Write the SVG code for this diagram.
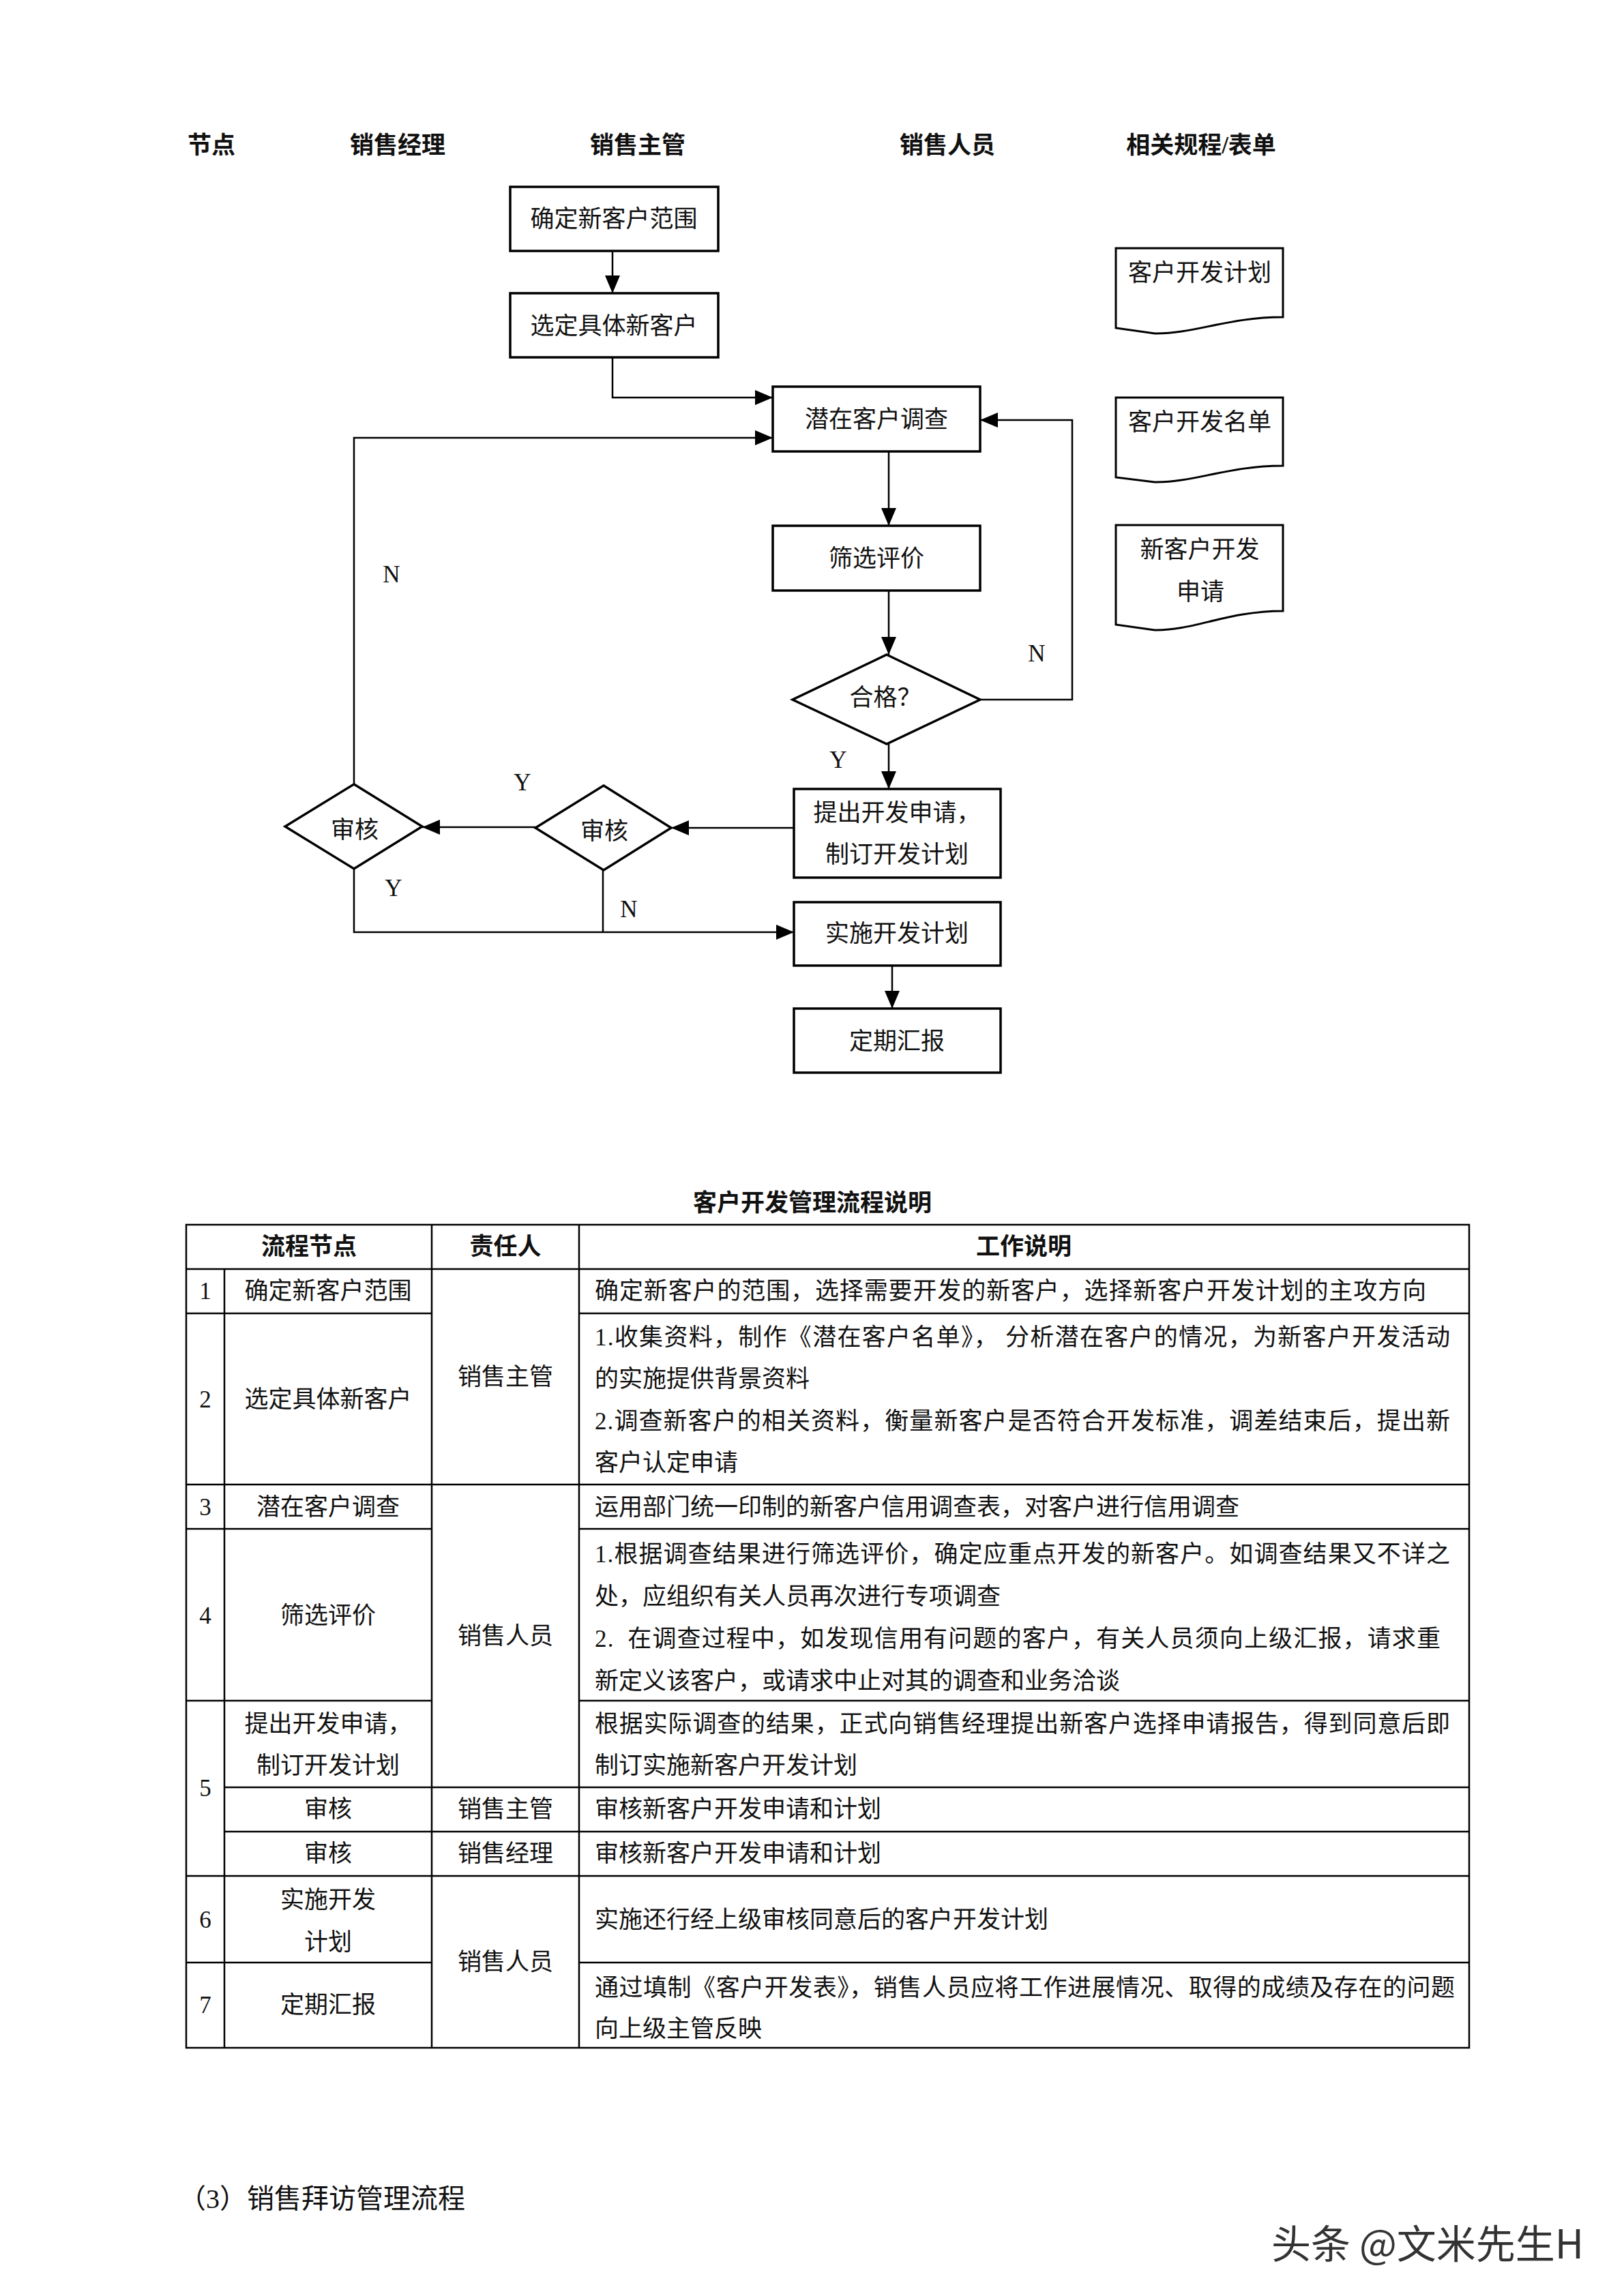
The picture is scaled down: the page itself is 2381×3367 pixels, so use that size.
<svg xmlns="http://www.w3.org/2000/svg" width="2381" height="3367" viewBox="0 0 2381 3367">
<defs>
<marker id="ah" markerUnits="userSpaceOnUse" markerWidth="26" markerHeight="22" refX="26" refY="11" orient="auto">
<path d="M0,0 L26,11 L0,22 Z" fill="#000"/>
</marker>
<style>
text{font-family:'Liberation Serif','Noto Sans CJK SC',serif;font-size:35px;fill:#111;dominant-baseline:central}
.c{text-anchor:middle}
.b{font-weight:bold}
.box{fill:#fff;stroke:#000;stroke-width:3.5}
.doc{fill:#fff;stroke:#000;stroke-width:3}
.ln{fill:none;stroke:#000;stroke-width:2.5}
.arr{fill:none;stroke:#000;stroke-width:2.5;marker-end:url(#ah)}
.tb{fill:none;stroke:#000;stroke-width:2.5}
.lbl{font-family:'Liberation Serif',serif;font-size:35px}
</style>
</defs>
<rect width="2381" height="3367" fill="#fff"/>

<g id="headers">
<text class="c b" x="310" y="213">节点</text>
<text class="c b" x="583" y="213">销售经理</text>
<text class="c b" x="935" y="213">销售主管</text>
<text class="c b" x="1389" y="213">销售人员</text>
<text class="c b" x="1761" y="213">相关规程/表单</text>
</g>

<g id="connectors">
<line class="arr" x1="898" y1="368" x2="898" y2="430"/>
<polyline class="arr" points="898,524 898,583 1133,583"/>
<polyline class="arr" points="519,1150 519,642 1133,642"/>
<polyline class="arr" points="1437,1026 1572,1026 1572,616 1437,616"/>
<line class="arr" x1="1303" y1="662" x2="1303" y2="771"/>
<line class="arr" x1="1303" y1="866" x2="1303" y2="960"/>
<line class="arr" x1="1303" y1="1091" x2="1303" y2="1157"/>
<line class="arr" x1="1164" y1="1214" x2="984" y2="1214"/>
<line class="arr" x1="785" y1="1213" x2="619" y2="1213"/>
<polyline class="arr" points="519,1274 519,1367 1164,1367"/>
<line class="ln" x1="884" y1="1276" x2="884" y2="1367"/>
<line class="arr" x1="1308" y1="1416" x2="1308" y2="1479"/>
<text class="c lbl" x="574" y="842">N</text>
<text class="c lbl" x="1520" y="958">N</text>
<text class="c lbl" x="1229" y="1114">Y</text>
<text class="c lbl" x="766" y="1147">Y</text>
<text class="c lbl" x="577" y="1302">Y</text>
<text class="c lbl" x="922" y="1333">N</text>
</g>

<g id="n1"><rect class="box" x="748" y="274" width="305" height="94"/><text class="c" x="900" y="321">确定新客户范围</text></g>
<g id="n2"><rect class="box" x="748" y="430" width="305" height="94"/><text class="c" x="900" y="478">选定具体新客户</text></g>
<g id="n3"><rect class="box" x="1133" y="567" width="304" height="95"/><text class="c" x="1285" y="615">潜在客户调查</text></g>
<g id="n4"><rect class="box" x="1133" y="771" width="304" height="95"/><text class="c" x="1285" y="819">筛选评价</text></g>
<g id="n5"><polygon class="box" points="1300,960 1437,1026 1300,1091 1162,1026"/><text class="c" x="1298" y="1023">合格？</text></g>
<g id="n6"><rect class="box" x="1164" y="1157" width="303" height="130"/><text class="c" x="1315" y="1192">提出开发申请，</text><text class="c" x="1315" y="1253">制订开发计划</text></g>
<g id="n7"><polygon class="box" points="885,1152 984,1214 885,1276 785,1214"/><text class="c" x="886" y="1219">审核</text></g>
<g id="n8"><polygon class="box" points="519,1150 619,1212 519,1274 418,1212"/><text class="c" x="520" y="1217">审核</text></g>
<g id="n9"><rect class="box" x="1164" y="1323" width="303" height="93"/><text class="c" x="1315" y="1369">实施开发计划</text></g>
<g id="n10"><rect class="box" x="1164" y="1479" width="303" height="94"/><text class="c" x="1315" y="1527">定期汇报</text></g>

<g id="d1"><path class="doc" d="M1636,364 H1881 V465 C1800,465 1750,490 1693,489 L1636,481 Z"/><text class="c" x="1759" y="400">客户开发计划</text></g>
<g id="d2"><path class="doc" d="M1636,583 H1881 V683 C1800,683 1750,708 1693,707 L1636,700 Z"/><text class="c" x="1759" y="619">客户开发名单</text></g>
<g id="d3"><path class="doc" d="M1636,770 H1881 V896 C1800,896 1750,925 1693,924 L1636,916 Z"/><text class="c" x="1759" y="806">新客户开发</text><text class="c" x="1760" y="868">申请</text></g>

<g id="table">
<text class="c b" x="1191" y="1764">客户开发管理流程说明</text>
<rect class="tb" x="273" y="1796" width="1881" height="1207"/>
<line class="tb" x1="273" y1="1861" x2="2154" y2="1861"/>
<line class="tb" x1="273" y1="1926" x2="633" y2="1926"/>
<line class="tb" x1="849" y1="1926" x2="2154" y2="1926"/>
<line class="tb" x1="273" y1="2177" x2="2154" y2="2177"/>
<line class="tb" x1="273" y1="2242" x2="633" y2="2242"/>
<line class="tb" x1="849" y1="2242" x2="2154" y2="2242"/>
<line class="tb" x1="273" y1="2494" x2="633" y2="2494"/>
<line class="tb" x1="849" y1="2494" x2="2154" y2="2494"/>
<line class="tb" x1="329" y1="2621" x2="2154" y2="2621"/>
<line class="tb" x1="329" y1="2686" x2="2154" y2="2686"/>
<line class="tb" x1="273" y1="2751" x2="2154" y2="2751"/>
<line class="tb" x1="273" y1="2878" x2="633" y2="2878"/>
<line class="tb" x1="849" y1="2878" x2="2154" y2="2878"/>
<line class="tb" x1="329" y1="1861" x2="329" y2="3003"/>
<line class="tb" x1="633" y1="1796" x2="633" y2="3003"/>
<line class="tb" x1="849" y1="1796" x2="849" y2="3003"/>

<text class="c b" x="453" y="1828">流程节点</text>
<text class="c b" x="741" y="1828">责任人</text>
<text class="c b" x="1501" y="1828">工作说明</text>

<text class="c" x="301" y="1893">1</text>
<text class="c" x="301" y="2052">2</text>
<text class="c" x="301" y="2210">3</text>
<text class="c" x="301" y="2369">4</text>
<text class="c" x="301" y="2622">5</text>
<text class="c" x="301" y="2815">6</text>
<text class="c" x="301" y="2940">7</text>

<text class="c" x="481" y="1893">确定新客户范围</text>
<text class="c" x="481" y="2052">选定具体新客户</text>
<text class="c" x="481" y="2210">潜在客户调查</text>
<text class="c" x="481" y="2369">筛选评价</text>
<text class="c" x="481" y="2528">提出开发申请，</text>
<text class="c" x="481" y="2589">制订开发计划</text>
<text class="c" x="481" y="2653">审核</text>
<text class="c" x="481" y="2718">审核</text>
<text class="c" x="481" y="2786">实施开发</text>
<text class="c" x="481" y="2848">计划</text>
<text class="c" x="481" y="2940">定期汇报</text>

<text class="c" x="741" y="2019">销售主管</text>
<text class="c" x="741" y="2399">销售人员</text>
<text class="c" x="741" y="2653">销售主管</text>
<text class="c" x="741" y="2718">销售经理</text>
<text class="c" x="741" y="2877">销售人员</text>

<text x="872" y="1893" textLength="1219" lengthAdjust="spacing">确定新客户的范围，选择需要开发的新客户，选择新客户开发计划的主攻方向</text>
<text x="872" y="1961" textLength="1254" lengthAdjust="spacing">1.收集资料，制作《潜在客户名单》，&#160;分析潜在客户的情况，为新客户开发活动</text>
<text x="872" y="2022">的实施提供背景资料</text>
<text x="872" y="2084" textLength="1254" lengthAdjust="spacing">2.调查新客户的相关资料，衡量新客户是否符合开发标准，调差结束后，提出新</text>
<text x="872" y="2145">客户认定申请</text>
<text x="872" y="2210">运用部门统一印制的新客户信用调查表，对客户进行信用调查</text>
<text x="872" y="2279" textLength="1254" lengthAdjust="spacing">1.根据调查结果进行筛选评价，确定应重点开发的新客户。如调查结果又不详之</text>
<text x="872" y="2341">处，应组织有关人员再次进行专项调查</text>
<text x="872" y="2403" textLength="1240" lengthAdjust="spacing">2.&#160;&#160;在调查过程中，如发现信用有问题的客户，有关人员须向上级汇报，请求重</text>
<text x="872" y="2465">新定义该客户，或请求中止对其的调查和业务洽谈</text>
<text x="872" y="2528" textLength="1254" lengthAdjust="spacing">根据实际调查的结果，正式向销售经理提出新客户选择申请报告，得到同意后即</text>
<text x="872" y="2589">制订实施新客户开发计划</text>
<text x="872" y="2653">审核新客户开发申请和计划</text>
<text x="872" y="2718">审核新客户开发申请和计划</text>
<text x="872" y="2815">实施还行经上级审核同意后的客户开发计划</text>
<text x="872" y="2915" textLength="1261" lengthAdjust="spacing">通过填制《客户开发表》，销售人员应将工作进展情况、取得的成绩及存在的问题</text>
<text x="872" y="2975">向上级主管反映</text>
</g>

<g id="footer">
<text x="262" y="3224" style="font-size:40px">（3）销售拜访管理流程</text>
<text x="2322" y="3287" style="font-size:58px;text-anchor:end;fill:#333;font-family:'Noto Sans CJK SC','Noto Sans',sans-serif">头条 @文米先生H</text>
</g>
</svg>
